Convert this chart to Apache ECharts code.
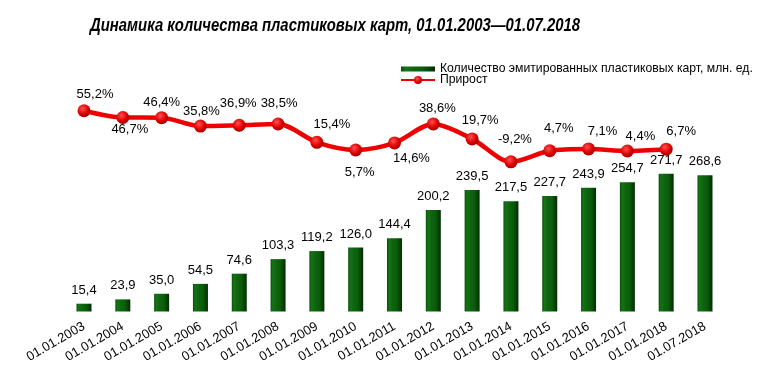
<!DOCTYPE html>
<html><head><meta charset="utf-8">
<script src="https://cdn.jsdelivr.net/npm/echarts@6/dist/echarts.min.js"></script>
<style>html,body{margin:0;padding:0;background:#fff}#c{width:770px;height:391px}</style>
</head><body><div id="c"></div>
<script>
const categories = ['01.01.2003','01.01.2004','01.01.2005','01.01.2006','01.01.2007','01.01.2008','01.01.2009','01.01.2010','01.01.2011','01.01.2012','01.01.2013','01.01.2014','01.01.2015','01.01.2016','01.01.2017','01.01.2018','01.07.2018'];
const cardCounts = [15.4,23.9,35.0,54.5,74.6,103.3,119.2,126.0,144.4,200.2,239.5,217.5,227.7,243.9,254.7,271.7,268.6];
const growthPct = [55.2,46.7,46.4,35.8,36.9,38.5,15.4,5.7,14.6,38.6,19.7,-9.2,4.7,7.1,4.4,6.7];
const seriesNames = ['Количество эмитированных пластиковых карт, млн. ед.','Прирост'];
const titleText = 'Динамика количества пластиковых карт, 01.01.2003—01.07.2018';

// label placement (style only)
const lblDx = [11,7,0,1,-1,1,15,4,17,4,8,4,9,14,13,15];
const lblDy = [-16,12,-15,-15,-22,-21,-18,22,15,-15,-18,-22,-22,-17,-15,-18];

const fmt = v => v.toFixed(1).replace('.', ',');

// condensed title: scale the real text horizontally to the reference width
const titleFont = 'italic bold 18px "Liberation Sans", Arial, sans-serif';
const mctx = document.createElement('canvas').getContext('2d');
mctx.font = titleFont;
const titleScale = 490 / mctx.measureText(titleText).width;

const chart = echarts.init(document.getElementById('c'), null, {renderer:'canvas'});
chart.setOption({
  animation:false,
  graphic:[{type:'text',x:90,y:26,scaleX:titleScale,
    style:{text:titleText,font:titleFont,fill:'#000',align:'left',verticalAlign:'middle'}}],
  legend:{orient:'vertical',left:400,top:63,itemWidth:34,itemHeight:10,itemGap:-1,padding:0,
    textStyle:{fontFamily:'Liberation Sans, Arial',fontSize:12.2,color:'#000'},
    data:[{name:seriesNames[0],icon:'path://M0,0H34V5H0Z'},{name:seriesNames[1]}]},
  grid:{left:64.6,right:45.6,top:50,bottom:79.5},
  xAxis:{type:'category',data:categories,axisLine:{show:false},axisTick:{show:false},
    axisLabel:{rotate:30,interval:0,margin:14,fontFamily:'Liberation Sans, Arial',fontSize:13,color:'#000'}},
  yAxis:[
    {type:'value',min:0,max:515.8,show:false,splitLine:{show:false}},
    {type:'value',min:-198,max:131.8,show:false,splitLine:{show:false}}
  ],
  series:[
    {name:seriesNames[0],type:'bar',yAxisIndex:0,barWidth:15,data:cardCounts,
     itemStyle:{color:new echarts.graphic.LinearGradient(0,0,1,0,[
       {offset:0,color:'#0b4f0b'},{offset:0.15,color:'#147414'},{offset:0.35,color:'#0f660f'},{offset:0.65,color:'#0b5c0b'},{offset:0.85,color:'#064206'},{offset:1,color:'#022c02'}])},
     label:{show:true,position:'top',distance:7,fontFamily:'Liberation Sans, Arial',fontSize:13,color:'#000',formatter:p=>fmt(p.value)}},
    {name:seriesNames[1],type:'line',yAxisIndex:1,smooth:0.3,symbol:'circle',symbolSize:13,z:5,
     lineStyle:{color:'#ee0000',width:4.5},
     itemStyle:{color:new echarts.graphic.RadialGradient(0.4,0.35,0.7,[{offset:0,color:'#ff5050'},{offset:0.6,color:'#dd0000'},{offset:1,color:'#990000'}])},
     data:growthPct.map((v,i)=>({value:v,label:{offset:[lblDx[i],lblDy[i]]}})),
     label:{show:true,position:'inside',fontFamily:'Liberation Sans, Arial',fontSize:13,color:'#000',formatter:p=>fmt(p.value)+'%'}}
  ]
});
</script></body></html>
